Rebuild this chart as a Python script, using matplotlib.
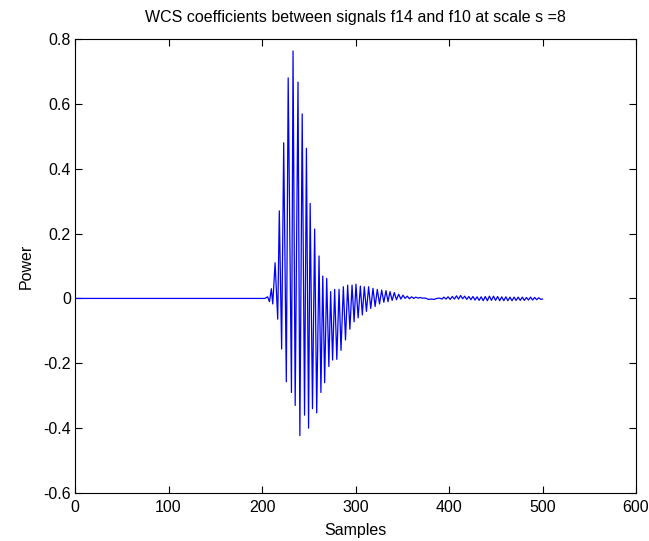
import numpy as np
import matplotlib
matplotlib.use("Agg")
import matplotlib.pyplot as plt

# extrema of the WCS curve (sample index, power)
samples = [0, 203, 206, 208, 210, 211.5, 214, 216.8, 218.5, 221, 223.2, 226, 228,
           231.5, 233.2, 235.5, 238.5, 240.5, 243, 245.5, 247.5, 249.8, 251.5,
           254, 256.3, 258.5, 261, 263, 265, 267, 269.2, 271.5, 273.4, 275.5,
           277.7, 280, 282.4, 284.5, 287, 289.3, 291.6, 294, 296.3, 298.5, 300.5,
           302.8, 305.2, 307.3, 309.4, 311.7, 314, 316.3, 318.7, 321, 323.3,
           325.7, 328, 330.3, 332.6, 334.8, 336.9, 339.2, 341.5, 343.8, 346.2,
           348.5, 350.8, 353, 355.4, 357.6, 360, 362.3, 364.5, 366.8, 369, 371,
           375, 378, 381, 384, 387, 390, 392.5, 394.5, 396.8, 399, 401.3, 403.5,
           405.8, 408, 410.2, 412.4, 414.6, 416.8, 419, 421.2, 423.4, 425.6,
           427.8, 430, 432.2, 434.4, 436.6, 438.8, 441, 443.2, 445.4, 447.6,
           449.8, 452, 454.2, 456.4, 458.6, 460.8, 463, 465.2, 467.4, 469.6,
           471.8, 474, 476.2, 478.4, 480.6, 482.8, 485, 487.2, 489.4, 491.6,
           493.8, 496, 498.2, 500]
power = [0, 0, 0.005, -0.01, 0.03, -0.017, 0.11, -0.064, 0.27, -0.156, 0.48,
         -0.257, 0.68, -0.29, 0.763, -0.33, 0.667, -0.423, 0.569, -0.36, 0.463,
         -0.40, 0.293, -0.34, 0.214, -0.353, 0.131, -0.29, 0.069, -0.26, 0.062,
         -0.21, 0.021, -0.19, 0.028, -0.188, 0.028, -0.16, 0.036, -0.128, 0.041,
         -0.095, 0.041, -0.072, 0.044, -0.06, 0.038, -0.051, 0.036, -0.04, 0.036,
         -0.031, 0.031, -0.025, 0.028, -0.017, 0.026, -0.012, 0.024, -0.010,
         0.021, -0.006, 0.018, -0.004, 0.013, -0.002, 0.010, 0.0, 0.007, -0.001,
         0.005, 0.0, 0.004, 0.001, 0.003, 0.001, 0.001, -0.003, -0.002, -0.003,
         0.0, 0.001, -0.002, 0.004, -0.002, 0.005, -0.003, 0.006, -0.002, 0.008,
         -0.002, 0.009, -0.001, 0.007, -0.003, 0.006, -0.004, 0.006, -0.005,
         0.005, -0.006, 0.005, -0.007, 0.006, -0.007, 0.007, -0.006, 0.007,
         -0.006, 0.006, -0.007, 0.005, -0.007, 0.005, -0.007, 0.004, -0.007,
         0.004, -0.006, 0.004, -0.006, 0.004, -0.006, 0.003, -0.005, 0.004,
         -0.005, 0.003, -0.004, 0.002, -0.003, -0.002]

xticks = [0, 100, 200, 300, 400, 500, 600]
yticks = [-0.6, -0.4, -0.2, 0, 0.2, 0.4, 0.6, 0.8]

plt.rcParams['font.family'] = ['Liberation Sans', 'DejaVu Sans']

fig = plt.figure(figsize=(6.49, 5.41), dpi=100)
ax = fig.add_axes([75/649, 1 - 493/541, 561/649, 454/541])

ax.plot(samples, power, color=(0, 0, 1), lw=0.9)

ax.set_xlim(0, 600)
ax.set_ylim(-0.6, 0.8)
ax.set_xticks(xticks)
ax.set_yticks(yticks)
ax.set_yticklabels(['%g' % v for v in yticks])
ax.tick_params(direction='in', top=True, right=True, length=5, width=0.8,
               labelsize=11.5)
ax.tick_params(axis='x', pad=5)
ax.tick_params(axis='y', pad=3)
for sp in ax.spines.values():
    sp.set_linewidth(0.8)

ax.set_title('WCS coefficients between signals f14 and f10 at scale s =8',
             fontsize=11.5, pad=12)
ax.set_xlabel('Samples', fontsize=11.5, labelpad=6)
ax.set_ylabel('Power', fontsize=11.5, labelpad=7)

fig.savefig('out.png', dpi=100)
